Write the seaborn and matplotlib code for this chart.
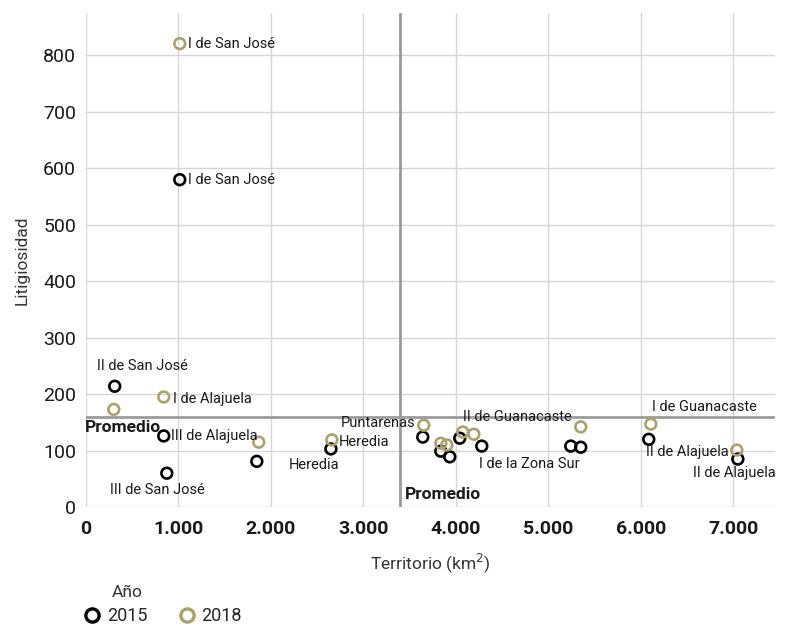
import matplotlib
matplotlib.use("Agg")
import matplotlib.pyplot as plt
import matplotlib.ticker as mticker
from matplotlib.lines import Line2D
import seaborn as sns
import pandas as pd

# Datos
nombres_2015 = ["II de San José", "I de San José", "III de Alajuela", "III de San José", "",
                "Heredia", "", "", "", "", "I de la Zona Sur", "", "", "", "II de Alajuela"]
territorio_2015 = [313, 1016, 843, 876, 1849, 2650, 3643, 3838, 3935, 4043, 4281, 5243, 5351, 6086, 7049]
litigiosidad_2015 = [214, 580, 126, 60, 81, 103, 124, 99, 89, 122, 108, 108, 106, 120, 85]

nombres_2018 = ["", "I de San José", "I de Alajuela", "", "Heredia", "Puntarenas", "", "", "", "",
                "II de Guanacaste", "I de Guanacaste", "II de Alajuela"]
territorio_2018 = [303, 1016, 843, 1870, 2660, 3654, 3838, 3903, 4076, 4195, 5351, 6108, 7038]
litigiosidad_2018 = [173, 821, 195, 115, 119, 145, 113, 110, 133, 129, 142, 147, 101]

promedio_territorio = 3395
promedio_litigiosidad = 159

anios = ["2015", "2018"]
colores = ["#000000", "#aaa16c"]

df = pd.DataFrame({
    "Territorio": territorio_2015 + territorio_2018,
    "Litigiosidad": litigiosidad_2015 + litigiosidad_2018,
    "Año": ["2015"] * len(territorio_2015) + ["2018"] * len(territorio_2018),
    "Nombre": nombres_2015 + nombres_2018,
})

# posicion de etiquetas: (dx, dy en pixeles, ha)
offsets = {
    ("2015", "II de San José"): (28, 20, "center"),
    ("2015", "I de San José"): (8, 0, "left"),
    ("2015", "III de Alajuela"): (7, 0, "left"),
    ("2015", "III de San José"): (-9, -17, "center"),
    ("2015", "Heredia"): (-17, -16, "center"),
    ("2015", "I de la Zona Sur"): (48, -18, "center"),
    ("2015", "II de Alajuela"): (-3, -14, "center"),
    ("2018", "I de San José"): (8, 0, "left"),
    ("2018", "I de Alajuela"): (9, -2, "left"),
    ("2018", "Heredia"): (7, -2, "left"),
    ("2018", "Puntarenas"): (-8, 2, "right"),
    ("2018", "II de Guanacaste"): (-63, 10, "center"),
    ("2018", "I de Guanacaste"): (54, 17, "center"),
    ("2018", "II de Alajuela"): (-8, -2, "right"),
}

sns.set_theme(style="whitegrid")
plt.rcParams["font.family"] = ["Roboto", "DejaVu Sans"]

fig = plt.figure(figsize=(7.94, 6.26), dpi=100)
ax = fig.add_axes([0.108, 0.190, 0.868, 0.789])

sns.scatterplot(data=df, x="Territorio", y="Litigiosidad", hue="Año", palette=colores,
                hue_order=anios, s=60, linewidth=1.9, legend=False, ax=ax, zorder=4)
for coll in ax.collections:
    fc = coll.get_facecolors()
    coll.set_edgecolors(fc)
    coll.set_facecolors("none")

ax.axvline(promedio_territorio, color="#9b9b9b", lw=2, zorder=2)
ax.axhline(promedio_litigiosidad, color="#9b9b9b", lw=2, zorder=2)

for _, r in df.iterrows():
    if not r["Nombre"]:
        continue
    dx, dy, ha = offsets[(r["Año"], r["Nombre"])]
    ax.annotate(r["Nombre"], (r["Territorio"], r["Litigiosidad"]), xytext=(dx, dy),
                textcoords="offset pixels", ha=ha, va="center", fontsize=10.5,
                color="#1a1a1a", zorder=5)

ax.annotate("Promedio", (0, promedio_litigiosidad), xytext=(-1, -10), textcoords="offset pixels",
            ha="left", va="center", fontsize=12.5, fontweight="bold", color="#1a1a1a")
ax.annotate("Promedio", (promedio_territorio, 0), xytext=(5, 13), textcoords="offset pixels",
            ha="left", va="center", fontsize=12.5, fontweight="bold", color="#1a1a1a")

ax.set_xlim(0, 7450)
ax.set_ylim(0, 875)
ax.xaxis.set_major_locator(mticker.MultipleLocator(1000))
ax.yaxis.set_major_locator(mticker.MultipleLocator(100))
ax.xaxis.set_major_formatter(mticker.FuncFormatter(lambda v, p: f"{int(v):,}".replace(",", ".")))
for s in ax.spines.values():
    s.set_visible(False)
ax.grid(True, color="#d6d6d6", lw=1)
ax.tick_params(axis="both", length=4, color="#d6d6d6", pad=3)
ax.tick_params(axis="y", labelsize=14, colors="#1a1a1a")
ax.tick_params(axis="x", labelsize=14, colors="#1a1a1a", pad=5)
for t in ax.get_xticklabels():
    t.set_fontweight("bold")
ax.set_xlabel("Territorio (km$^2$)", fontsize=12.5, color="#333333", labelpad=10)
ax.set_ylabel("Litigiosidad", fontsize=12.5, color="#333333", labelpad=10)

fig.text(0.141, 0.054, "Año", fontsize=12.5, color="#333333", va="center")
handles = [Line2D([], [], marker="o", ls="", markersize=9.5, markerfacecolor="none",
                  markeredgecolor=c, markeredgewidth=2.4) for c in colores]
fig.legend(handles, anios, loc="center left", bbox_to_anchor=(0.106, 0.016), ncol=2,
           frameon=False, fontsize=13, handletextpad=0.35, columnspacing=1.75,
           handlelength=0.9, borderaxespad=0, borderpad=0)

fig.savefig("out.png", dpi=100)
